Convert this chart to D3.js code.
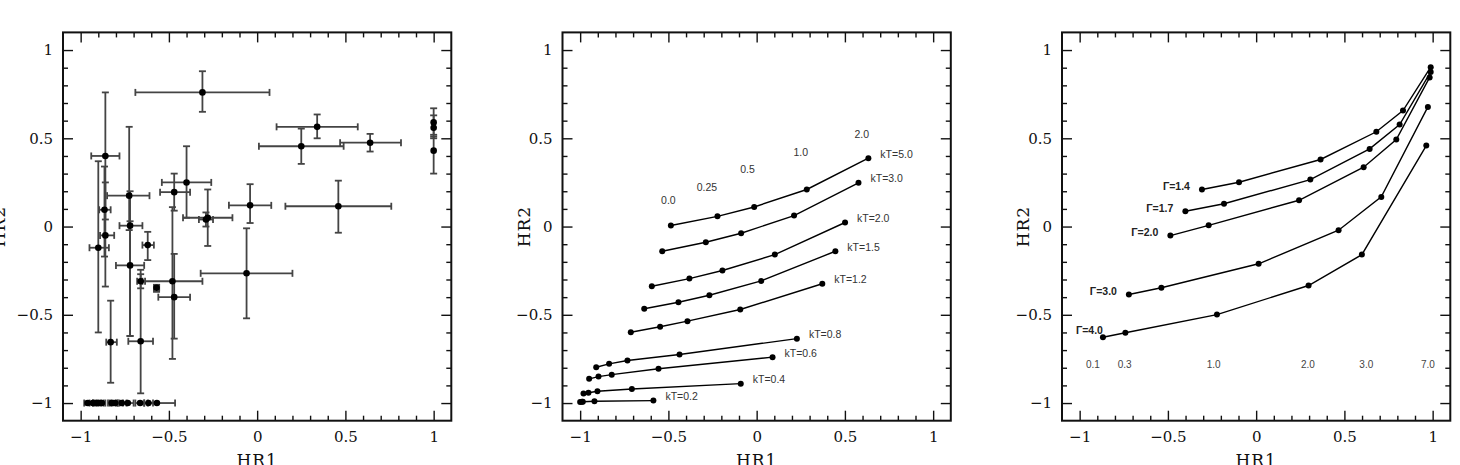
<!DOCTYPE html>
<html>
<head>
<meta charset="utf-8">
<script src="https://cdn.jsdelivr.net/npm/d3@7"></script>
<style>
  body { margin: 0; background: #fff; }
  svg { display: block; }
</style>
</head>
<body>
<script>
// ---- panel 1: observed sources, HR1 vs HR2 with error bars ----
var srcHR1 = [-0.31, -0.86, -0.90, -0.865, -0.86, -0.725, -0.72, -0.72, -0.40, -0.47,
  -0.28, -0.29, -0.04, 0.34, 0.25, 0.64, 0.46, 1.0, 1.0, 1.0,
  -0.06, -0.62, -0.66, -0.66, -0.48, -0.47, -0.57, -0.83,
  -0.961, -0.931, -0.908, -0.894, -0.88, -0.824, -0.815, -0.805, -0.767, -0.733, -0.663, -0.616, -0.568];
var srcHR2 = [0.76, 0.40, -0.12, 0.095, -0.05, 0.175, 0.005, -0.22, 0.25, 0.195,
  0.05, 0.04, 0.12, 0.565, 0.455, 0.475, 0.115, 0.59, 0.56, 0.43,
  -0.265, -0.105, -0.31, -0.65, -0.31, -0.40, -0.347, -0.655,
  -1, -1, -1, -1, -1, -1, -1, -1, -1, -1, -1, -1, -1];
var srcHR1Lo = [-0.69, -0.94, -0.95, -0.895, -0.89, -0.85, -0.78, -0.80, -0.54, -0.55,
  -0.42, -0.33, -0.16, 0.11, 0.01, 0.47, 0.16, 1.0, 1.0, 1.0,
  -0.32, -0.65, -0.68, -0.73, -0.65, -0.56, -0.585, -0.855,
  -0.98, -0.95, -0.93, -0.92, -0.90, -0.845, -0.835, -0.825, -0.79, -0.76, -0.69, -0.64, -0.62];
var srcHR1Hi = [0.07, -0.78, -0.84, -0.83, -0.81, -0.61, -0.65, -0.64, -0.26, -0.38,
  -0.14, -0.25, 0.08, 0.57, 0.49, 0.815, 0.76, 1.0, 1.0, 1.0,
  0.20, -0.585, -0.635, -0.59, -0.31, -0.38, -0.555, -0.795,
  -0.93, -0.91, -0.885, -0.87, -0.86, -0.80, -0.79, -0.78, -0.74, -0.70, -0.64, -0.59, -0.465];
var srcHR2Lo = [0.65, 0.04, -0.60, -0.17, -0.34, -0.02, -0.62, -0.62, 0.05, 0.09,
  -0.11, 0.0, 0.02, 0.50, 0.355, 0.425, -0.035, 0.52, 0.50, 0.30,
  -0.52, -0.19, -0.35, -0.945, -0.75, -0.635, -0.37, -0.885,
  -1, -1, -1, -1, -1, -1, -1, -1, -1, -1, -1, -1, -1];
var srcHR2Hi = [0.88, 0.76, 0.37, 0.34, 0.25, 0.565, 0.20, 0.03, 0.455, 0.30,
  0.21, 0.08, 0.24, 0.635, 0.555, 0.525, 0.26, 0.67, 0.63, 0.51,
  -0.01, -0.03, -0.27, -0.245, 0.11, -0.155, -0.33, -0.42,
  -1, -1, -1, -1, -1, -1, -1, -1, -1, -1, -1, -1, -1];

// ---- panel 2: thermal models, one row per kT ----
var kTNames = ["kT=5.0", "kT=3.0", "kT=2.0", "kT=1.5", "kT=1.2", "kT=0.8", "kT=0.6", "kT=0.4", "kT=0.2"];
var kTHR1 = [
  [-0.486, -0.222, -0.014, 0.284, 0.633],
  [-0.535, -0.288, -0.088, 0.212, 0.577],
  [-0.594, -0.381, -0.194, 0.103, 0.501],
  [-0.637, -0.443, -0.268, 0.026, 0.446],
  [-0.713, -0.547, -0.392, -0.093, 0.372],
  [-0.909, -0.836, -0.732, -0.437, 0.228],
  [-0.949, -0.896, -0.821, -0.556, 0.09],
  [-0.981, -0.953, -0.902, -0.707, -0.09],
  [-1.0, -0.99, -0.985, -0.919, -0.585]
];
var kTHR2 = [
  [0.006, 0.058, 0.111, 0.21, 0.387],
  [-0.14, -0.089, -0.038, 0.062, 0.248],
  [-0.338, -0.295, -0.249, -0.159, 0.023],
  [-0.466, -0.429, -0.389, -0.308, -0.14],
  [-0.599, -0.568, -0.536, -0.47, -0.324],
  [-0.797, -0.778, -0.759, -0.725, -0.635],
  [-0.863, -0.85, -0.839, -0.806, -0.74],
  [-0.946, -0.942, -0.933, -0.92, -0.89],
  [-0.994, -0.993, -0.993, -0.99, -0.986]
];
var nhNames = ["0.0", "0.25", "0.5", "1.0", "2.0"];
var nhHR1 = [-0.50, -0.282, -0.052, 0.25, 0.596];
var nhHR2 = [0.147, 0.223, 0.323, 0.423, 0.525];

// ---- panel 3: power-law models, one row per photon index ----
var gammaNames = ["\u0393=1.4", "\u0393=1.7", "\u0393=2.0", "\u0393=3.0", "\u0393=4.0"];
var gammaHR1 = [
  [-0.307, -0.097, 0.365, 0.681, 0.832, 0.989],
  [-0.401, -0.182, 0.307, 0.643, 0.813, 0.989],
  [-0.486, -0.269, 0.243, 0.609, 0.794, 0.983],
  [-0.721, -0.537, 0.014, 0.467, 0.709, 0.973],
  [-0.868, -0.741, -0.222, 0.297, 0.599, 0.964]
];
var gammaHR2 = [
  [0.21, 0.251, 0.38, 0.537, 0.657, 0.903],
  [0.087, 0.129, 0.266, 0.44, 0.578, 0.876],
  [-0.051, 0.007, 0.149, 0.336, 0.493, 0.845],
  [-0.385, -0.347, -0.211, -0.021, 0.168, 0.678],
  [-0.627, -0.602, -0.499, -0.334, -0.159, 0.459]
];
var nh3Names = ["0.1", "0.3", "1.0", "2.0", "3.0", "7.0"];
var nh3HR1 = [-0.925, -0.745, -0.241, 0.293, 0.624, 0.973];
var nh3HR2 = -0.78;

var majorTicks = [-1, -0.5, 0, 0.5, 1];
var minorTicks = d3.range(-10, 11).filter(function (d) { return d % 5 !== 0; }).map(function (d) { return d / 10; });

var chartW = 1460,
  chartH = 465,
  size = 388.3,
  marginTop = 32.4;
var panelLeft = [63, 562.5, 1062];

var svg = d3.select("body").append("svg").attr("width", chartW).attr("height", chartH);

var x = d3.scaleLinear().domain([-1.1, 1.1]).range([0, size]);
var y = d3.scaleLinear().domain([-1.1, 1.1]).range([size, 0]);

function drawFrame(g, ylabel) {
  var fmt = d3.format("");
  var specs = [
    [d3.axisBottom, "translate(0," + size + ")", true, x, 11],
    [d3.axisTop, "translate(0,0)", false, x, 10],
    [d3.axisLeft, "translate(0,0)", true, y, 10],
    [d3.axisRight, "translate(" + size + ",0)", false, y, 10]
  ];
  specs.forEach(function (s) {
    var minorAxis = s[0](s[3]).tickValues(minorTicks).tickSize(-5).tickFormat("");
    var gm = g.append("g").attr("transform", s[1]).call(minorAxis);
    gm.select(".domain").remove();
    var majorAxis = s[0](s[3]).tickValues(majorTicks).tickSize(-10).tickSizeOuter(0)
      .tickPadding(s[4])
      .tickFormat(s[2] ? fmt : "");
    var ga = g.append("g").attr("transform", s[1]).call(majorAxis);
    ga.select(".domain").remove();
  });
  g.selectAll(".tick line").attr("stroke", "#111").attr("stroke-width", 1.4);
  g.selectAll(".tick text")
    .attr("font-family", "DejaVu Serif")
    .attr("font-size", 15)
    .attr("fill", "#111");

  g.append("rect")
    .attr("width", size)
    .attr("height", size)
    .attr("fill", "none")
    .attr("stroke", "#111")
    .attr("stroke-width", 2);

  g.append("text")
    .attr("x", x(0))
    .attr("y", 433.6)
    .attr("text-anchor", "middle")
    .attr("font-family", "DejaVu Serif")
    .attr("font-size", 17)
    .attr("letter-spacing", 1)
    .attr("fill", "#111")
    .text("HR1");

  g.append("text")
    .attr("transform", "translate(" + ylabel + "," + y(0) + ") rotate(-90)")
    .attr("text-anchor", "middle")
    .attr("font-family", "DejaVu Serif")
    .attr("font-size", 17)
    .attr("letter-spacing", 1)
    .attr("fill", "#111")
    .text("HR2");
}

var panels = panelLeft.map(function (l) {
  return svg.append("g").attr("transform", "translate(" + l + "," + marginTop + ")");
});

drawFrame(panels[0], -58);
drawFrame(panels[1], -33);
drawFrame(panels[2], -33);

// panel 1 error bars
var p1 = panels[0];
var cap = 3.5;
srcHR1.forEach(function (d, i) {
  var eb = p1.append("g").attr("stroke", "#444").attr("stroke-width", 1.8);
  if (srcHR1Hi[i] > srcHR1Lo[i]) {
    eb.append("line")
      .attr("x1", x(srcHR1Lo[i])).attr("x2", x(srcHR1Hi[i]))
      .attr("y1", y(srcHR2[i])).attr("y2", y(srcHR2[i]));
    [srcHR1Lo[i], srcHR1Hi[i]].forEach(function (v) {
      eb.append("line")
        .attr("x1", x(v)).attr("x2", x(v))
        .attr("y1", y(srcHR2[i]) - cap).attr("y2", y(srcHR2[i]) + cap);
    });
  }
  if (srcHR2Hi[i] > srcHR2Lo[i]) {
    eb.append("line")
      .attr("x1", x(d)).attr("x2", x(d))
      .attr("y1", y(srcHR2Lo[i])).attr("y2", y(srcHR2Hi[i]));
    [srcHR2Lo[i], srcHR2Hi[i]].forEach(function (v) {
      eb.append("line")
        .attr("x1", x(d) - cap).attr("x2", x(d) + cap)
        .attr("y1", y(v)).attr("y2", y(v));
    });
  }
});
p1.selectAll("circle.src")
  .data(srcHR1)
  .enter()
  .append("circle")
  .attr("class", "src")
  .attr("cx", function (d) { return x(d); })
  .attr("cy", function (d, i) { return y(srcHR2[i]); })
  .attr("r", 3.3)
  .attr("fill", "#000");

var line = d3.line()
  .x(function (d) { return x(d[0]); })
  .y(function (d) { return y(d[1]); });

function drawTracks(g, xs, ys) {
  xs.forEach(function (row, k) {
    var pts = row.map(function (v, j) { return [v, ys[k][j]]; });
    g.append("path")
      .attr("d", line(pts))
      .attr("fill", "none")
      .attr("stroke", "#000")
      .attr("stroke-width", 1.4);
    g.selectAll(null)
      .data(pts)
      .enter()
      .append("circle")
      .attr("cx", function (d) { return x(d[0]); })
      .attr("cy", function (d) { return y(d[1]); })
      .attr("r", 3)
      .attr("fill", "#000");
  });
}

// panel 2
var p2 = panels[1];
drawTracks(p2, kTHR1, kTHR2);
kTNames.forEach(function (name, k) {
  var last = kTHR1[k].length - 1;
  p2.append("text")
    .attr("x", x(kTHR1[k][last]) + 12)
    .attr("y", y(kTHR2[k][last]) - 4)
    .attr("dy", "0.35em")
    .attr("font-family", "Liberation Sans")
    .attr("font-size", 10.5)
    .attr("fill", "#333")
    .text(name);
});
nhNames.forEach(function (name, j) {
  p2.append("text")
    .attr("x", x(nhHR1[j]))
    .attr("y", y(nhHR2[j]))
    .attr("dy", "0.35em")
    .attr("text-anchor", "middle")
    .attr("font-family", "Liberation Sans")
    .attr("font-size", 10.5)
    .attr("fill", "#333")
    .text(name);
});

// panel 3
var p3 = panels[2];
drawTracks(p3, gammaHR1, gammaHR2);
gammaNames.forEach(function (name, k) {
  var lastRow = k === gammaNames.length - 1;
  p3.append("text")
    .attr("x", x(gammaHR1[k][0]) - (lastRow ? 0 : 12))
    .attr("y", y(gammaHR2[k][0]) - (lastRow ? 7 : 3))
    .attr("dy", "0.35em")
    .attr("text-anchor", "end")
    .attr("font-family", "Liberation Sans")
    .attr("font-weight", "bold")
    .attr("font-size", 10.5)
    .attr("fill", "#222")
    .text(name);
});
nh3Names.forEach(function (name, j) {
  p3.append("text")
    .attr("x", x(nh3HR1[j]))
    .attr("y", y(nh3HR2))
    .attr("dy", "0.35em")
    .attr("text-anchor", "middle")
    .attr("font-family", "Liberation Sans")
    .attr("font-size", 10)
    .attr("fill", "#444")
    .text(name);
});
</script>
</body>
</html>
